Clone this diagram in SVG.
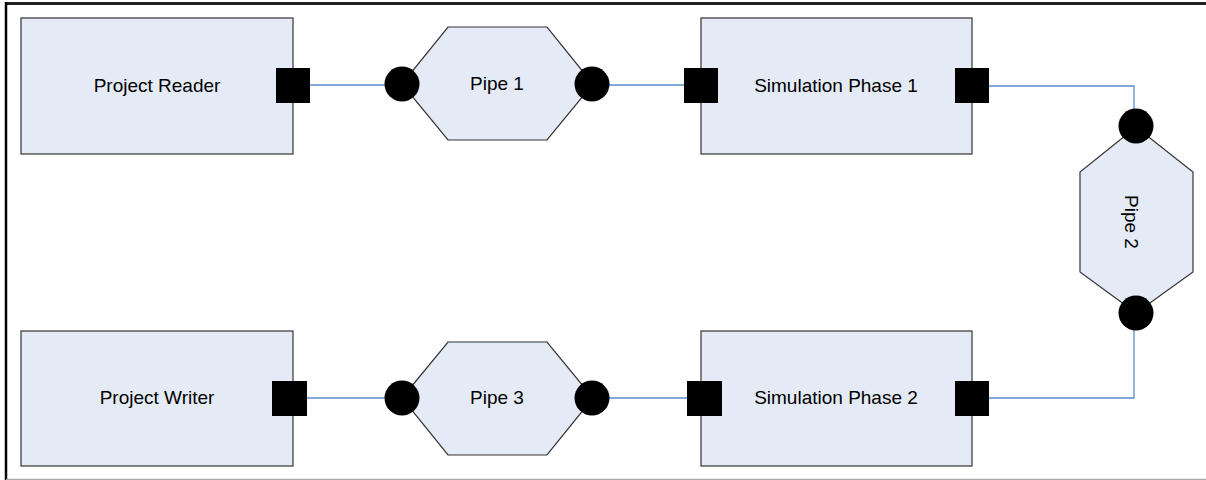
<svg xmlns="http://www.w3.org/2000/svg" width="1206" height="480" viewBox="0 0 1206 480">
<style>
.box{fill:#E5EBF6;stroke:#333;stroke-width:1.2}
.port{fill:#000}
.dot{fill:#000}
.lbl{font-family:"Liberation Sans",Arial,sans-serif;font-size:19px;fill:#000;text-anchor:middle}
.wire{fill:none;stroke:#5A8BD0;stroke-width:1.3}
</style>
<rect width="1206" height="480" fill="#fff"/>
<g id="frame">
<line x1="5" y1="3.5" x2="1206" y2="3.5" stroke="#222" stroke-width="3"/>
<line x1="6" y1="2" x2="6" y2="480" stroke="#000" stroke-width="2.5"/>
<line x1="6" y1="479.5" x2="1206" y2="479.5" stroke="#aaa" stroke-width="1.5"/>
</g>
<g id="connectors">
<polyline class="wire" points="310,85 402,85"/>
<polyline class="wire" points="592,85 684,85"/>
<polyline class="wire" points="989,86 1134,86 1134,127"/>
<polyline class="wire" points="1134,313 1134,398 989,398"/>
<polyline class="wire" points="687,398 592,398"/>
<polyline class="wire" points="402,398 307,398"/>
</g>
<g id="project-reader">
<rect class="box" x="21" y="18" width="272" height="136"/>
<text class="lbl" x="157" y="92">Project Reader</text>
<rect class="port" x="276" y="68" width="34" height="35"/>
</g>
<g id="pipe-1">
<polygon class="box" points="402,84 448,27 547,27 593,84 547,140 448,140"/>
<text class="lbl" x="497" y="90">Pipe 1</text>
<circle class="dot" cx="402" cy="84" r="17.5"/>
<circle class="dot" cx="592" cy="84" r="17.5"/>
</g>
<g id="simulation-phase-1">
<rect class="box" x="701" y="18" width="271" height="136"/>
<text class="lbl" x="836" y="92">Simulation Phase 1</text>
<rect class="port" x="684" y="68" width="34" height="35"/>
<rect class="port" x="955" y="68" width="34" height="35"/>
</g>
<g id="pipe-2">
<polygon class="box" points="1136,127 1193,172 1193,272 1136,313 1080,272 1080,172"/>
<text class="lbl" transform="translate(1131,222) rotate(90)" x="0" y="0" dominant-baseline="central">Pipe 2</text>
<circle class="dot" cx="1136" cy="126" r="17.5"/>
<circle class="dot" cx="1136" cy="313" r="17.5"/>
</g>
<g id="simulation-phase-2">
<rect class="box" x="701" y="331" width="271" height="135"/>
<text class="lbl" x="836" y="404">Simulation Phase 2</text>
<rect class="port" x="687" y="381" width="35" height="35"/>
<rect class="port" x="955" y="381" width="34" height="35"/>
</g>
<g id="pipe-3">
<polygon class="box" points="402,398 448,342 547,342 593,398 547,455 448,455"/>
<text class="lbl" x="497" y="404">Pipe 3</text>
<circle class="dot" cx="402" cy="398" r="17.5"/>
<circle class="dot" cx="592" cy="398" r="17.5"/>
</g>
<g id="project-writer">
<rect class="box" x="21" y="331" width="272" height="135"/>
<text class="lbl" x="157" y="404">Project Writer</text>
<rect class="port" x="272" y="381" width="35" height="35"/>
</g>
</svg>
